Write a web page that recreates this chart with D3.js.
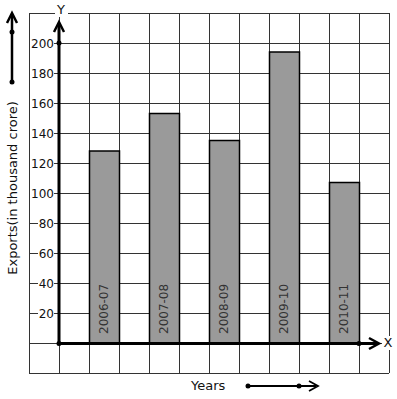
<!DOCTYPE html>
<html>
<head>
<meta charset="utf-8">
<script src="https://cdn.jsdelivr.net/npm/d3@7"></script>
<style>
  body { margin: 0; background: #fff; }
  text { font-family: "DejaVu Sans", sans-serif; }
</style>
</head>
<body>
<svg id="chart" width="397" height="399"></svg>
<script>
// data
var years = ["2006-07", "2007-08", "2008-09", "2009-10", "2010-11"];
var exportsVal = [128, 153, 135, 194, 107];
var yTicks = [20, 40, 60, 80, 100, 120, 140, 160, 180, 200];

var svg = d3.select("#chart");

// grid units: one column = 30px, one row = 20 (thousand crore)
var xs = d3.scaleLinear().domain([-1, 11]).range([29, 389]);
var ys = d3.scaleLinear().domain([-20, 220]).range([373, 13]);

// grid
var grid = svg.append("g").attr("stroke", "#333").attr("stroke-width", 1);
grid.selectAll("line.v").data(d3.range(-1, 12)).enter().append("line")
  .attr("x1", d => xs(d) + 0.5).attr("x2", d => xs(d) + 0.5)
  .attr("y1", ys(220)).attr("y2", ys(-20));
grid.selectAll("line.h").data(d3.range(-20, 221, 20)).enter().append("line")
  .attr("y1", d => ys(d) + 0.5).attr("y2", d => ys(d) + 0.5)
  .attr("x1", xs(-1)).attr("x2", xs(11));

// bars
svg.selectAll("rect.bar").data(exportsVal).enter().append("rect")
  .attr("class", "bar")
  .attr("x", (d, i) => xs(2 * i + 1) + 0.5)
  .attr("width", xs(2) - xs(1))
  .attr("y", d => ys(d))
  .attr("height", d => ys(0) - ys(d))
  .attr("fill", "#9a9a9a")
  .attr("stroke", "#000")
  .attr("stroke-width", 1.5);

// bar labels (rotated)
svg.selectAll("text.yr").data(years).enter().append("text")
  .attr("transform", (d, i) => `translate(${xs(2 * i + 1.5) + 4},${ys(0) - 9}) rotate(-90)`)
  .attr("font-size", 12)
  .attr("fill", "#333")
  .text(d => d);

// y tick labels with white background
var tl = svg.selectAll("g.tl").data(yTicks).enter().append("g");
tl.append("rect")
  .attr("x", xs(0) - 28).attr("y", d => ys(d) - 7)
  .attr("width", d => d >= 100 ? 24 : 16).attr("height", 14)
  .attr("fill", "#fff");
tl.append("text")
  .attr("x", xs(0) - 5).attr("y", d => ys(d) + 5)
  .attr("text-anchor", "end")
  .attr("font-size", 12)
  .attr("fill", "#111")
  .text(d => d);
tl.select("rect").attr("x", d => xs(0) - 5 - (d >= 100 ? 24 : 16));

// axes
var ax = svg.append("g").attr("stroke", "#000").attr("fill", "none");
ax.append("line").attr("x1", xs(0)).attr("x2", xs(0)).attr("y1", ys(0)).attr("y2", 23).attr("stroke-width", 3);
ax.append("path").attr("d", `M${xs(0) - 5},32 L${xs(0)},22 L${xs(0) + 5},32`).attr("stroke-width", 2.5);
ax.append("line").attr("x1", xs(0)).attr("x2", 378).attr("y1", ys(0) + 0.5).attr("y2", ys(0) + 0.5).attr("stroke-width", 3);
ax.append("path").attr("d", `M369,${ys(0) - 5} L379,${ys(0) + 0.5} L369,${ys(0) + 6}`).attr("stroke-width", 2.5);

svg.selectAll("circle.dot").data([[xs(0), ys(200)], [xs(0), ys(0) + 0.5], [xs(10), ys(0) + 0.5]])
  .enter().append("circle").attr("cx", d => d[0]).attr("cy", d => d[1]).attr("r", 2.5).attr("fill", "#000");

// axis letters
svg.append("rect").attr("x", 55).attr("y", 4).attr("width", 13).attr("height", 13).attr("fill", "#fff");
svg.append("text").attr("x", 61).attr("y", 14).attr("text-anchor", "middle").attr("font-size", 13).attr("fill", "#111").text("Y");
svg.append("rect").attr("x", 382).attr("y", 336).attr("width", 12).attr("height", 14).attr("fill", "#fff");
svg.append("text").attr("x", 388).attr("y", 347).attr("text-anchor", "middle").attr("font-size", 13).attr("fill", "#111").text("X");

// y title with side arrow
svg.append("text")
  .attr("transform", "translate(17,188) rotate(-90)")
  .attr("text-anchor", "middle")
  .attr("font-size", 13)
  .attr("fill", "#111")
  .text("Exports(in thousand crore)");
var la = svg.append("g").attr("stroke", "#000").attr("fill", "none");
la.append("line").attr("x1", 12).attr("x2", 12).attr("y1", 82).attr("y2", 15).attr("stroke-width", 2.5);
la.append("path").attr("d", "M7,23 L12,13 L17,23").attr("stroke-width", 2.5);
svg.append("circle").attr("cx", 12).attr("cy", 32).attr("r", 2.5).attr("fill", "#000");
svg.append("circle").attr("cx", 12).attr("cy", 82).attr("r", 2.5).attr("fill", "#000");

// x title with arrow
svg.append("text").attr("x", 191).attr("y", 390).attr("font-size", 13).attr("fill", "#111").text("Years");
var ba = svg.append("g").attr("stroke", "#000").attr("fill", "none");
ba.append("line").attr("x1", 248).attr("x2", 316).attr("y1", 386).attr("y2", 386).attr("stroke-width", 2);
ba.append("path").attr("d", "M309,381 L318,386 L309,391").attr("stroke-width", 1.8);
svg.append("circle").attr("cx", 248).attr("cy", 386).attr("r", 2.5).attr("fill", "#000");
svg.append("circle").attr("cx", 299).attr("cy", 386).attr("r", 2.5).attr("fill", "#000");
</script>
</body>
</html>
